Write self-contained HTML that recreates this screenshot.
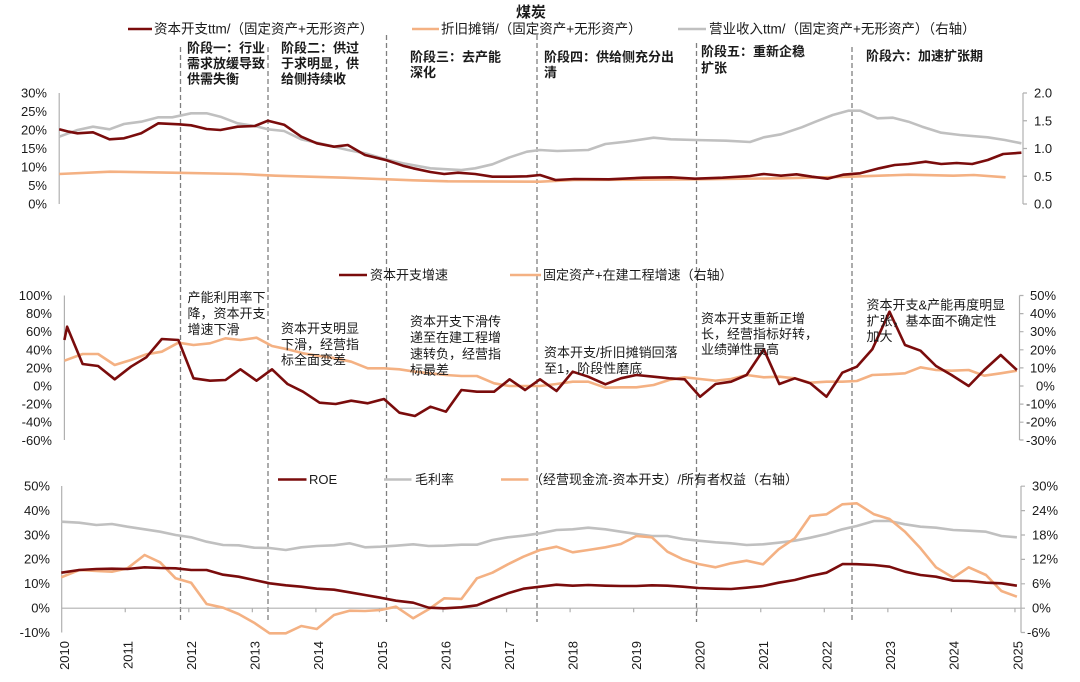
<!DOCTYPE html>
<html><head><meta charset="utf-8"><style>
html,body{margin:0;padding:0;background:#fff;}
svg{display:block;}
text{font-family:"Liberation Sans","Noto Sans CJK SC",sans-serif;fill:#1a1a1a;}
.t{font-size:13px;}
.l1{font-size:13.5px;}
.b{font-size:13px;font-weight:bold;}
.ax{stroke:#b0b0b0;stroke-width:1.2;fill:none;}
.dash{stroke:#7f7f7f;stroke-width:1.3;stroke-dasharray:5,3;fill:none;}
.red{stroke:#7a0c0c;stroke-width:2.6;fill:none;stroke-linejoin:round;}
.org{stroke:#f4b183;stroke-width:2.6;fill:none;stroke-linejoin:round;}
.gry{stroke:#c0c0c0;stroke-width:2.6;fill:none;stroke-linejoin:round;}
</style></head><body>
<svg width="1080" height="682" viewBox="0 0 1080 682" xmlns="http://www.w3.org/2000/svg">
<rect width="1080" height="682" fill="#fff"/>

<!-- Title -->
<text x="531" y="17" text-anchor="middle" style="font-size:15px;font-weight:bold">煤炭</text>

<!-- Legend row 1 -->
<line x1="128" y1="29" x2="152" y2="29" class="red"/>
<text x="154" y="33.5" class="l1">资本开支ttm/（固定资产+无形资产）</text>
<line x1="412" y1="29" x2="439" y2="29" class="org"/>
<text x="441" y="33.5" class="l1">折旧摊销/（固定资产+无形资产）</text>
<line x1="678" y1="29" x2="706" y2="29" class="gry"/>
<text x="709" y="33.5" class="l1">营业收入ttm/（固定资产+无形资产）（右轴）</text>

<!-- Dashed stage lines -->
<line x1="180.5" y1="47" x2="180.5" y2="622" class="dash"/>
<line x1="268" y1="47" x2="268" y2="622" class="dash"/>
<line x1="386.5" y1="35" x2="386.5" y2="622" class="dash"/>
<line x1="537" y1="35" x2="537" y2="622" class="dash"/>
<line x1="696.5" y1="43" x2="696.5" y2="622" class="dash"/>
<line x1="852" y1="47" x2="852" y2="622" class="dash"/>

<!-- Stage labels -->
<text x="187" y="52.5" class="b">阶段一：行业</text>
<text x="187" y="68" class="b">需求放缓导致</text>
<text x="187" y="83.5" class="b">供需失衡</text>
<text x="281" y="52.5" class="b">阶段二：供过</text>
<text x="281" y="68" class="b">于求明显，供</text>
<text x="281" y="83.5" class="b">给侧持续收</text>
<text x="410" y="61.5" class="b">阶段三：去产能</text>
<text x="410" y="77" class="b">深化</text>
<text x="544" y="61.5" class="b">阶段四：供给侧充分出</text>
<text x="544" y="77" class="b">清</text>
<text x="701" y="56" class="b">阶段五：重新企稳</text>
<text x="701" y="72.5" class="b">扩张</text>
<text x="866" y="60.5" class="b">阶段六：加速扩张期</text>

<!-- ===== Panel 1 ===== -->
<line x1="59.2" y1="93" x2="59.2" y2="204" class="ax"/>
<g class="t" text-anchor="end">
<text x="47" y="97.5">30%</text>
<text x="47" y="116">25%</text>
<text x="47" y="134.5">20%</text>
<text x="47" y="153">15%</text>
<text x="47" y="171.5">10%</text>
<text x="47" y="190">5%</text>
<text x="47" y="208.5">0%</text>
</g>
<line x1="1023" y1="93" x2="1023" y2="204" class="ax"/>
<path d="M1023 93h4M1023 120.75h4M1023 148.5h4M1023 176.25h4M1023 204h4" class="ax"/>
<g class="t">
<text x="1034" y="97.5">2.0</text>
<text x="1034" y="125.25">1.5</text>
<text x="1034" y="153">1.0</text>
<text x="1034" y="180.75">0.5</text>
<text x="1034" y="208.5">0.0</text>
</g>
<polyline class="org" points="59.2,174 110.2,171.7 172.2,172.7 241,174 275.5,175.7 344.4,177.7 413.2,180.3 447.7,181.3 540,181.7 574.4,180 695,179.3 781,178.3 850,176.7 908.5,174.7 953.2,175.7 973.9,175 1005.6,177.3"/>
<polyline class="gry" points="59.2,136.7 77.5,130 93,126.7 109.5,129.3 124,124 141.2,121.7 158.4,117.3 172.2,117.3 191.1,113.3 206.6,113.3 220.4,116.7 237.6,123.3 254.8,126 267.9,129.3 284.1,131 301.3,139.3 316.8,142.7 334,146.7 347.8,150 365,153.3 385.7,159.3 402.9,163.3 430.4,168.3 447.7,169.3 461.4,170 475.2,168.3 492.4,164.3 509.7,157.3 526.9,151.7 540,150 557.2,151 588.2,150 605.4,144 626.1,141.7 653.6,137.7 670.9,139.3 695,140 726,140.7 750,142 763.8,137.3 781,134.3 801.7,127.3 815.5,121.7 832.7,115 848.2,110.7 860.2,110.7 877.5,118.3 893,117.7 908.5,121.7 922.2,126.7 941.2,132.7 960.1,135 987.7,137.3 1004.9,140 1021.4,143.3"/>
<polyline class="red" points="59.2,129.3 68.9,131.7 77.5,133.3 93,132.3 109.5,139.3 124,138.3 141.2,133.3 158.4,123.3 179,124.3 191.1,125.3 206.6,129 220.4,130 237.6,126.7 254.8,126 267.9,120.7 284.1,124.7 301.3,136.7 316.8,143.3 334,146.7 347.8,145 365,155 385.7,160 402.9,165.7 413.2,168.3 430.4,172 444.2,174 458,172.7 475.2,174 492.4,176.7 509.7,176.7 526.9,176.3 540,175 555.5,180 574.4,179 608.9,179.3 643.3,177.7 670.9,177.3 695,178.7 722.5,177.7 750,176 763.8,174 781,175.7 796.5,174.3 812,176.7 827.5,178.7 843,174.7 860.2,173.3 879.2,168.3 894.7,165 908.5,164 925.7,161.7 941.2,164 956.7,163 972.2,164 987.7,160 1003.2,154 1021.4,152.7"/>

<!-- ===== Panel 2 ===== -->
<line x1="339" y1="275" x2="367" y2="275" class="red"/>
<text x="370" y="279.5" class="t">资本开支增速</text>
<line x1="510" y1="275" x2="541" y2="275" class="org"/>
<text x="543" y="279.5" class="t">固定资产+在建工程增速（右轴）</text>

<line x1="64.4" y1="295.5" x2="64.4" y2="440" class="ax"/>
<g class="t" text-anchor="end">
<text x="52" y="300">100%</text>
<text x="52" y="318.1">80%</text>
<text x="52" y="336.2">60%</text>
<text x="52" y="354.3">40%</text>
<text x="52" y="372.4">20%</text>
<text x="52" y="390.5">0%</text>
<text x="52" y="408.6">-20%</text>
<text x="52" y="426.7">-40%</text>
<text x="52" y="444.8">-60%</text>
</g>
<line x1="1019.5" y1="295.5" x2="1019.5" y2="440" class="ax"/>
<path d="M1019.5 295.5h4M1019.5 313.6h4M1019.5 331.7h4M1019.5 349.8h4M1019.5 367.9h4M1019.5 386h4M1019.5 404.1h4M1019.5 422.2h4M1019.5 440h4" class="ax"/>
<g class="t">
<text x="1030" y="300">50%</text>
<text x="1030" y="318.1">40%</text>
<text x="1030" y="336.2">30%</text>
<text x="1030" y="354.3">20%</text>
<text x="1030" y="372.4">10%</text>
<text x="1036" y="390.5">0%</text>
<text x="1026" y="408.6">-10%</text>
<text x="1026" y="426.7">-20%</text>
<text x="1026" y="444.8">-30%</text>
</g>

<polyline class="org" points="64.4,360.7 82.6,354 98.1,354 114.7,365 130.9,360 146.3,354.3 161.8,351.7 178.4,342.7 193.5,345 210,343.3 225.5,338.3 240.4,340 256.5,337.7 272,346 287.5,349.3 303,353.3 319.6,356 335.7,358.3 351.2,361.7 367.8,368.3 384,368.3 399.4,369.3 414.9,371.7 430.4,373.3 445.9,375 461.4,376 476.9,376 494.1,383.3 509.6,386 525.1,386 540,386 556.5,384 572.7,381.7 588.2,381.7 605.4,387.7 620.9,387.3 636.4,387.3 653.6,385 669.1,380 684.6,377.3 700.1,379 715.6,380.7 731.1,379 746.6,375 763.8,377.3 779.3,376.7 794.8,378.3 810.3,382.7 826.5,381.7 842.3,381.7 856.8,381 872.3,375 889.5,374.3 905,373.3 920.5,367.3 936,370 951.5,370.7 968.7,370 984.2,375.7 1000.7,373.3 1016.9,370.7"/>
<polyline class="red" points="64.4,340 67.1,326.7 82.6,364 98.1,366 114.7,379.3 130.9,366.7 146.3,357.3 161.8,339 178.4,340 193.5,378.3 210,380.7 225.5,380 240.4,369.3 256.5,380.7 272,369.3 287.5,384 303,391.7 319.6,402.7 335.7,404 351.2,400.7 367.8,403.3 384,399 399.4,412.7 414.9,416 430.4,406.7 445.9,411.7 461.4,390 476.9,391.7 494.1,391.7 509.6,379.3 525.1,390 540,379.3 556.5,391 572.7,371.7 588.2,376.7 605.4,384.3 620.9,378.3 636.4,375 653.6,376.7 669.1,378.3 684.6,379.3 700.1,396.7 715.6,384 731.1,381.7 746.6,375 763.8,349.3 779.3,384 794.8,378.3 810.3,383.3 826.5,396.7 842.3,372.7 856.8,366.7 872.3,349.3 889.5,311.7 905,345 920.5,350.7 936,366 951.5,375 968.7,386 984.2,370 1000.7,355 1016.9,370"/>

<g class="t">
<text x="187.5" y="302">产能利用率下</text>
<text x="187.5" y="318">降，资本开支</text>
<text x="187.5" y="334">增速下滑</text>
<text x="281" y="333">资本开支明显</text>
<text x="281" y="349">下滑，经营指</text>
<text x="281" y="364.5">标全面变差</text>
<text x="410" y="326">资本开支下滑传</text>
<text x="410" y="342">递至在建工程增</text>
<text x="410" y="358.5">速转负，经营指</text>
<text x="410" y="374.5">标最差</text>
<text x="544" y="357">资本开支/折旧摊销回落</text>
<text x="544" y="373">至1，阶段性磨底</text>
<text x="701" y="323">资本开支重新正增</text>
<text x="701" y="338.5">长，经营指标好转，</text>
<text x="701" y="354">业绩弹性最高</text>
<text x="866.5" y="309.5">资本开支&amp;产能再度明显</text>
<text x="866.5" y="325.5">扩张，基本面不确定性</text>
<text x="866.5" y="341">加大</text>
</g>

<!-- ===== Panel 3 ===== -->
<line x1="278" y1="479.5" x2="306.5" y2="479.5" class="red"/>
<text x="309" y="484" class="t">ROE</text>
<line x1="384" y1="479.5" x2="411.5" y2="479.5" class="gry"/>
<text x="415" y="484" class="t">毛利率</text>
<line x1="501" y1="479.5" x2="528.5" y2="479.5" class="org"/>
<text x="530" y="484" class="t">（经营现金流-资本开支）/所有者权益（右轴）</text>

<line x1="61.7" y1="486" x2="61.7" y2="632.5" class="ax"/>
<g class="t" text-anchor="end">
<text x="50" y="490.5">50%</text>
<text x="50" y="514.9">40%</text>
<text x="50" y="539.3">30%</text>
<text x="50" y="563.7">20%</text>
<text x="50" y="588.1">10%</text>
<text x="50" y="612.7">0%</text>
<text x="50" y="637">-10%</text>
</g>
<line x1="1021" y1="486" x2="1021" y2="632.5" class="ax"/>
<path d="M1021 486.2h4M1021 510.6h4M1021 535h4M1021 559.4h4M1021 583.8h4M1021 608.2h4M1021 632.5h4" class="ax"/>
<g class="t">
<text x="1032" y="490.5">30%</text>
<text x="1032" y="514.9">24%</text>
<text x="1032" y="539.3">18%</text>
<text x="1032" y="563.7">12%</text>
<text x="1032" y="588.1">6%</text>
<text x="1032" y="612.7">0%</text>
<text x="1027" y="637">-6%</text>
</g>
<line x1="61.7" y1="608.2" x2="1021" y2="608.2" class="ax"/>
<path d="M125.25 608.2v4M188.8 608.2v4M252.35 608.2v4M315.9 608.2v4M379.45 608.2v4M443 608.2v4M506.55 608.2v4M570.1 608.2v4M633.65 608.2v4M697.2 608.2v4M760.75 608.2v4M824.3 608.2v4M887.85 608.2v4M951.4 608.2v4M1014.95 608.2v4" class="ax"/>

<polyline class="gry" points="61.3,521.7 79.2,522.7 96.4,525 111.9,524 127.4,526.7 144.6,529.3 160.1,531.7 175.6,535 191.1,537.3 206.6,541.7 223.1,545 238.6,545.3 254.1,547.7 269.6,548 285.8,550 301.3,547.3 316.8,546 334,545.3 349.5,543.3 365,547.3 380.5,546.7 396,545.7 413.2,544.3 428.7,546 444.2,545.7 461.4,544.7 476.9,544.7 492.4,540 507.9,537.3 523.4,535.7 540,533.3 556.5,530 572.7,529.3 588.2,527.7 605.4,529.3 620.9,531.7 636.4,534 651.9,536 667.4,536 682.9,539 698.4,540.7 715.6,542.3 731.1,543.3 746.6,545 763.1,544.3 778.6,542.7 794.8,540.7 810.3,537.7 826.5,534 842.3,529.3 856.8,526 874,521 889.5,521 905,524.3 920.5,526.7 936,527.7 953.2,530 968.7,530.7 986,531.7 1001.4,536 1016.9,537.3"/>
<polyline class="org" points="61.3,577.3 79.2,570 96.4,571 111.9,571.7 127.4,568.3 144.6,555 160.1,562.3 175.6,578.3 191.1,582.7 206.6,604 223.1,607.7 238.6,614 254.1,622.7 269.6,633.3 285.8,633.3 301.3,626 316.8,629 334,615 349.5,610.7 365,611 380.5,610 396,606.7 413.2,618.3 428.7,609.3 444.2,598.3 461.4,599 476.9,578.3 492.4,572.7 507.9,564.3 523.4,556.7 540,550 556.5,546.7 572.7,552.3 588.2,550 605.4,547.3 620.9,544 636.4,536 651.9,537.3 667.4,551.7 682.9,559.3 698.4,564 715.6,567.3 731.1,563.3 746.6,560.7 763.1,564.3 778.6,549.3 794.8,538.3 810.3,516 826.5,514.3 842.3,504.3 856.8,503.3 874,514.3 889.5,519 905,531.7 920.5,548.3 936,567.3 953.2,577.7 968.7,567.3 986,575 1001.4,591 1016.9,596.7"/>
<polyline class="red" points="61.3,572.7 79.2,570 96.4,569 111.9,568.7 127.4,569 144.6,567.3 160.1,568 175.6,568.3 191.1,570 206.6,570 223.1,574.7 238.6,576.7 254.1,580 269.6,583.3 285.8,585.3 301.3,586.7 316.8,588.7 334,589.7 349.5,592.3 365,595 380.5,597.7 396,600.7 413.2,602.7 428.7,607.7 444.2,608.3 461.4,607.3 476.9,605.3 492.4,599 507.9,593.3 523.4,588.7 540,586.7 556.5,584.7 572.7,585.7 588.2,585 605.4,585.7 620.9,586 636.4,586 651.9,585.3 667.4,585.7 682.9,586.7 698.4,588 715.6,588.7 731.1,589 746.6,587.7 763.1,586 778.6,582.7 794.8,580 810.3,576 826.5,572.7 842.7,564 856.8,564.2 874,565 889.5,566.7 905,571.7 920.5,575 936,576.7 953.2,580.7 968.7,581 986,582.7 1001.4,583.3 1016.9,585.7"/>

<!-- Year labels -->
<g class="t" text-anchor="end">
<text transform="translate(69,641) rotate(-90)">2010</text>
<text transform="translate(132.55,641) rotate(-90)">2011</text>
<text transform="translate(196.1,641) rotate(-90)">2012</text>
<text transform="translate(259.65,641) rotate(-90)">2013</text>
<text transform="translate(323.2,641) rotate(-90)">2014</text>
<text transform="translate(386.75,641) rotate(-90)">2015</text>
<text transform="translate(450.3,641) rotate(-90)">2016</text>
<text transform="translate(513.85,641) rotate(-90)">2017</text>
<text transform="translate(577.4,641) rotate(-90)">2018</text>
<text transform="translate(640.95,641) rotate(-90)">2019</text>
<text transform="translate(704.5,641) rotate(-90)">2020</text>
<text transform="translate(768.05,641) rotate(-90)">2021</text>
<text transform="translate(831.6,641) rotate(-90)">2022</text>
<text transform="translate(895.15,641) rotate(-90)">2023</text>
<text transform="translate(958.7,641) rotate(-90)">2024</text>
<text transform="translate(1022.25,641) rotate(-90)">2025</text>
</g>
</svg>
</body></html>
